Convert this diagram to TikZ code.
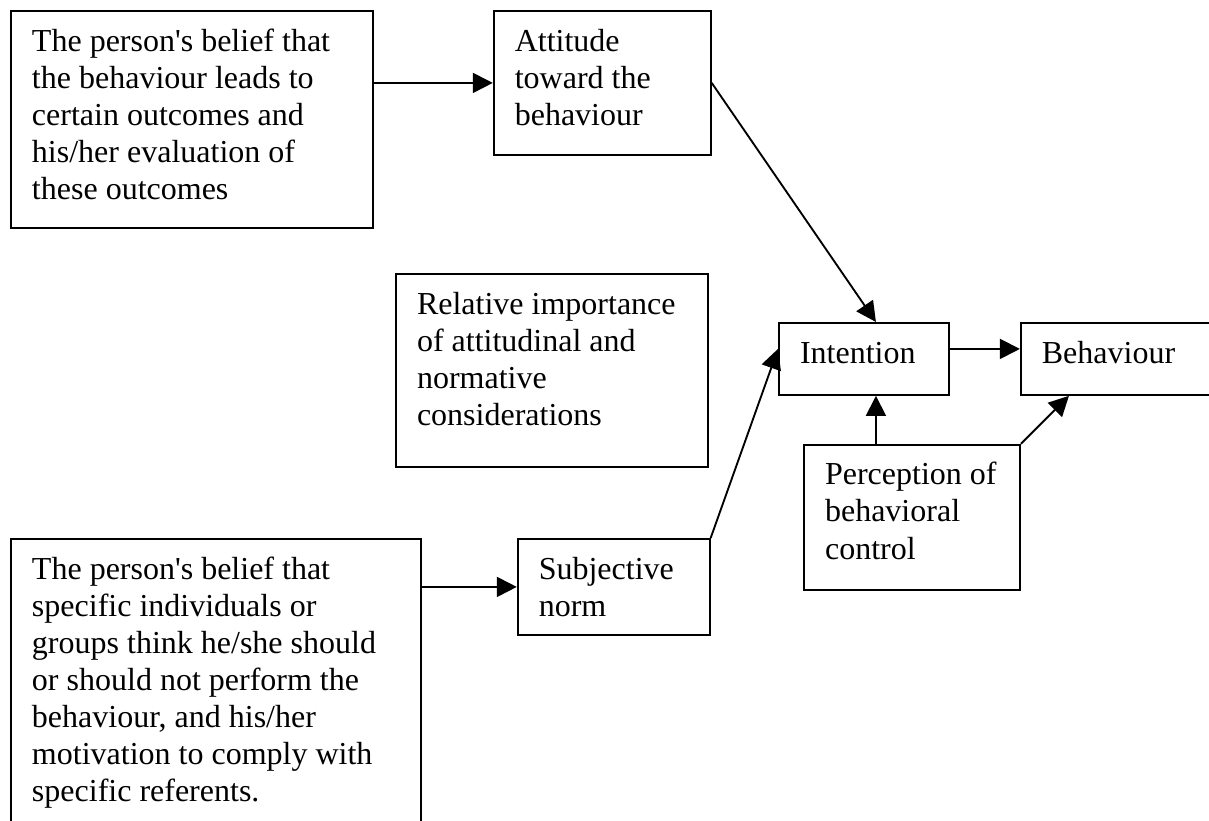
\documentclass[tikz,border=0pt]{standalone}
\usepackage{fontspec}
\setmainfont{Liberation Serif}
\usetikzlibrary{positioning,arrows.meta}

% text set at the top left of a box: width, height, lines
\newcommand{\boxtext}[3]{%
  \parbox[t][#2][t]{#1}{\raggedright\leftskip=7.9pt\relax\vspace{5.3pt}\strut#3}}

\begin{document}
\begin{tikzpicture}[
  x=0.375pt, y=-0.375pt,
  font=\fontsize{12pt}{13.9pt}\selectfont,
  panel/.style={draw, line width=0.7pt, inner sep=0pt, anchor=north west},
  link/.style={-{Triangle[length=7.5pt, width=7.5pt]}, line width=0.7pt},
]
\useasboundingbox (0,0) rectangle (1209,821);
\clip (0,0) rectangle (1209,821);

% Beliefs about outcomes and the attitude
\node[panel] (outcomes) at (10,10) {\boxtext{135.75pt}{81.4pt}{%
  The person\textquotesingle s belief that\\
  the behaviour leads to\\
  certain outcomes and\\
  his/her evaluation of\\
  these outcomes}};
\node[panel, below right=0pt and 44.6pt of outcomes.north east] (attitude) {\boxtext{81.4pt}{54pt}{%
  Attitude\\
  toward the\\
  behaviour}};

% Weights of the two components
\node[panel] (weights) at (395,273) {\boxtext{117pt}{72.4pt}{%
  Relative importance\\
  of attitudinal and\\
  normative\\
  considerations}};

% Intention, behaviour and control
\node[panel] (intention) at (778,322) {\boxtext{63.75pt}{27pt}{Intention}};
\node[panel, below right=0pt and 26.25pt of intention.north east] (behaviour) {\boxtext{82.5pt}{27pt}{Behaviour}};
\node[panel, below right=18pt and 9.4pt of intention.south west] (control) {\boxtext{81pt}{54.4pt}{%
  Perception of\\
  behavioral\\
  control}};

% Normative beliefs and the subjective norm
\node[panel] (referents) at (10,538) {\boxtext{153.75pt}{112.5pt}{%
  The person\textquotesingle s belief that\\
  specific individuals or\\
  groups think he/she should\\
  or should not perform the\\
  behaviour, and his/her\\
  motivation to comply with\\
  specific referents.}};
\node[panel, below right=0pt and 35.6pt of referents.north east] (norm) {\boxtext{72pt}{36pt}{%
  Subjective\\
  norm}};

% Arrows
\draw[link] (outcomes.east |- attitude.west) -- (attitude.west);
\draw[link] (attitude.east) -- ([xshift=4.5pt]intention.north);
\draw[link] (referents.east |- norm.west) -- (norm.west);
\draw[link] (norm.north east) -- ([yshift=3.75pt]intention.west);
\draw[link] ([yshift=3.75pt]intention.east) -- ([yshift=3.75pt]behaviour.west);
\draw[link] ([xshift=4.5pt]intention.south |- control.north) -- ([xshift=4.5pt]intention.south);
\draw[link] (control.north east) -- ([xshift=18.4pt]behaviour.south west);

\end{tikzpicture}
\end{document}
